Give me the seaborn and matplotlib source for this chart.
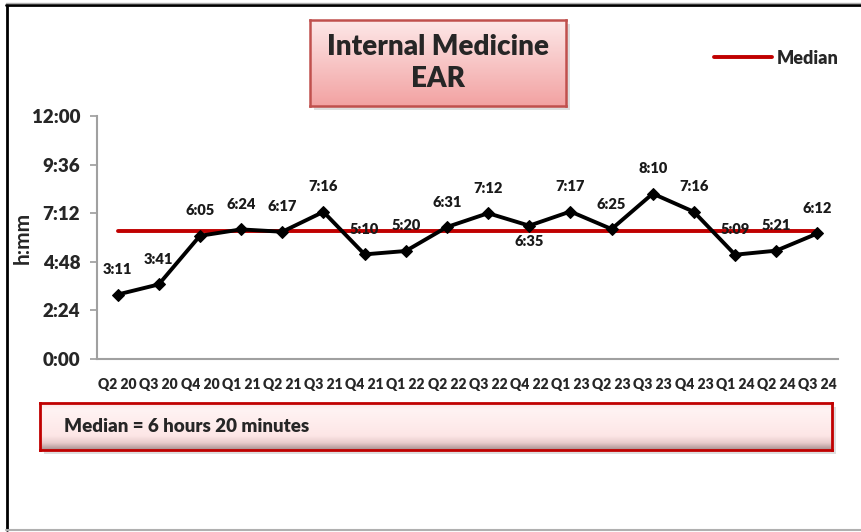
import numpy as np
import pandas as pd
import matplotlib
matplotlib.use("Agg")
import matplotlib.pyplot as plt
import seaborn as sns
from matplotlib.patches import Rectangle
from matplotlib.lines import Line2D

# datos
quarters = ["Q2 20", "Q3 20", "Q4 20", "Q1 21", "Q2 21", "Q3 21", "Q4 21", "Q1 22", "Q2 22",
            "Q3 22", "Q4 22", "Q1 23", "Q2 23", "Q3 23", "Q4 23", "Q1 24", "Q2 24", "Q3 24"]
ear_labels = ["3:11", "3:41", "6:05", "6:24", "6:17", "7:16", "5:10", "5:20", "6:31",
              "7:12", "6:35", "7:17", "6:25", "8:10", "7:16", "5:09", "5:21", "6:12"]
# posicion de la etiqueta (arriba / abajo)
label_pos = ["above"] * 10 + ["below"] + ["above"] * 7
median_label = "6:20"
y_ticks = [0, 2.4, 4.8, 7.2, 9.6, 12]


def to_hours(s):
    h, m = s.split(":")
    return int(h) + int(m) / 60


def fmt_hm(v):
    total = int(round(v * 60))
    return "%d:%02d" % (total // 60, total % 60)


df = pd.DataFrame({"quarter": quarters, "hours": [to_hours(s) for s in ear_labels]})
df["x"] = np.arange(len(df))
median = to_hours(median_label)

sns.set_theme(style="white")
plt.rcParams["font.family"] = ["Lato", "DejaVu Sans"]
BOLD = "heavy"

W, H = 862, 532
fig = plt.figure(figsize=(W / 100, H / 100), dpi=100)


def fx(px):
    return px / W


def fy(py):
    return 1 - py / H


ax = fig.add_axes([fx(97), fy(359), fx(838) - fx(97), fy(116) - fy(359)])

sns.lineplot(data=df, x="x", y="hours", ax=ax, color="black", lw=2.8, marker="D",
             markersize=6.5, markeredgecolor="black", zorder=3)
ax.plot([0, len(df) - 1], [median, median], color="#c00000", lw=2.8, zorder=2, label="Median")

for i, row in df.iterrows():
    dy = 18 if label_pos[i] == "above" else -11.5
    ax.annotate(ear_labels[i], (row["x"], row["hours"]), xytext=(0, dy), textcoords="offset points",
                ha="center", va="center", fontsize=10.5, fontweight=BOLD, color="#1a1a1a")

ax.set_xlim(-0.5, len(df) - 0.5)
ax.set_ylim(0, 12)
ax.set_xticks(df["x"])
ax.set_xticklabels(quarters, fontsize=10, fontweight=BOLD)
ax.set_yticks(y_ticks)
ax.set_yticklabels([fmt_hm(v) for v in y_ticks], fontsize=13.5, fontweight=BOLD)
ax.tick_params(axis="y", left=True, length=5, color="#a0a0a0", pad=7)
ax.tick_params(axis="x", bottom=False, pad=8)
ax.set_xlabel("")
ax.set_ylabel("h:mm", fontsize=15, fontweight="bold")
ax.yaxis.set_label_coords(-0.087, 0.5)
for s in ["top", "right"]:
    ax.spines[s].set_visible(False)
for s in ["left", "bottom"]:
    ax.spines[s].set_color("#a0a0a0")
    ax.spines[s].set_linewidth(1.5)

# leyenda
fig.legend(handles=[Line2D([], [], color="#c00000", lw=2.8)], labels=["Median"],
           loc="center left", bbox_to_anchor=(fx(698), fy(58)), frameon=False,
           handlelength=3.2, handletextpad=0.25, prop={"weight": BOLD, "size": 13})

# marco exterior
fig.add_artist(Line2D([fx(7), fx(7)], [fy(5), fy(530)], color="black", lw=2, transform=fig.transFigure))
fig.add_artist(Line2D([fx(6), fx(862)], [fy(5), fy(5)], color="black", lw=2, transform=fig.transFigure))
fig.add_artist(Line2D([fx(6), fx(862)], [fy(3), fy(3)], color="#b0b0b0", lw=1, transform=fig.transFigure))
fig.add_artist(Line2D([fx(6), fx(862)], [fy(530), fy(530)], color="#b0b0b0", lw=1.5, transform=fig.transFigure))


def gradient_box(x0, y0, x1, y1, stops, edge, lw):
    # sombra
    fig.add_artist(Rectangle((fx(x0 + 4), fy(y1 + 4)), fx(x1) - fx(x0), fy(y0) - fy(y1),
                             transform=fig.transFigure, facecolor="#c8c8c8", edgecolor="none",
                             alpha=0.6, zorder=1))
    bax = fig.add_axes([fx(x0), fy(y1), fx(x1) - fx(x0), fy(y0) - fy(y1)], zorder=2)
    pos = np.array([p for p, _ in stops])
    cols = np.array([matplotlib.colors.to_rgb(c) for _, c in stops])
    t = np.linspace(0, 1, 96)
    img = np.stack([np.interp(t, pos, cols[:, k]) for k in range(3)], axis=-1)[:, None, :]
    bax.imshow(img, aspect="auto", extent=(0, 1, 0, 1), origin="upper")
    bax.set_xticks([])
    bax.set_yticks([])
    for s in bax.spines.values():
        s.set_color(edge)
        s.set_linewidth(lw)
        s.set_visible(True)
    return bax


tb = gradient_box(310, 20, 566, 106, [(0, "#fde8e8"), (1, "#f2a2a2")], "#c0504d", 1.8)
tb.text(0.5, 0.5, "Internal Medicine\nEAR", ha="center", va="center", fontsize=20,
        fontweight=BOLD, linespacing=1.3, transform=tb.transAxes)

bb = gradient_box(40, 403, 832, 450,
                  [(0, "#fbe4e4"), (0.15, "#fff3f3"), (0.7, "#fde6e6"), (0.85, "#e8cccc"), (1, "#a89090")],
                  "#c00000", 2)
bb.text(24 / 792, 0.5, "Median = 6 hours 20 minutes", ha="left", va="center", fontsize=13.5,
        fontweight=BOLD, transform=bb.transAxes)

fig.savefig("out.png", dpi=100)
